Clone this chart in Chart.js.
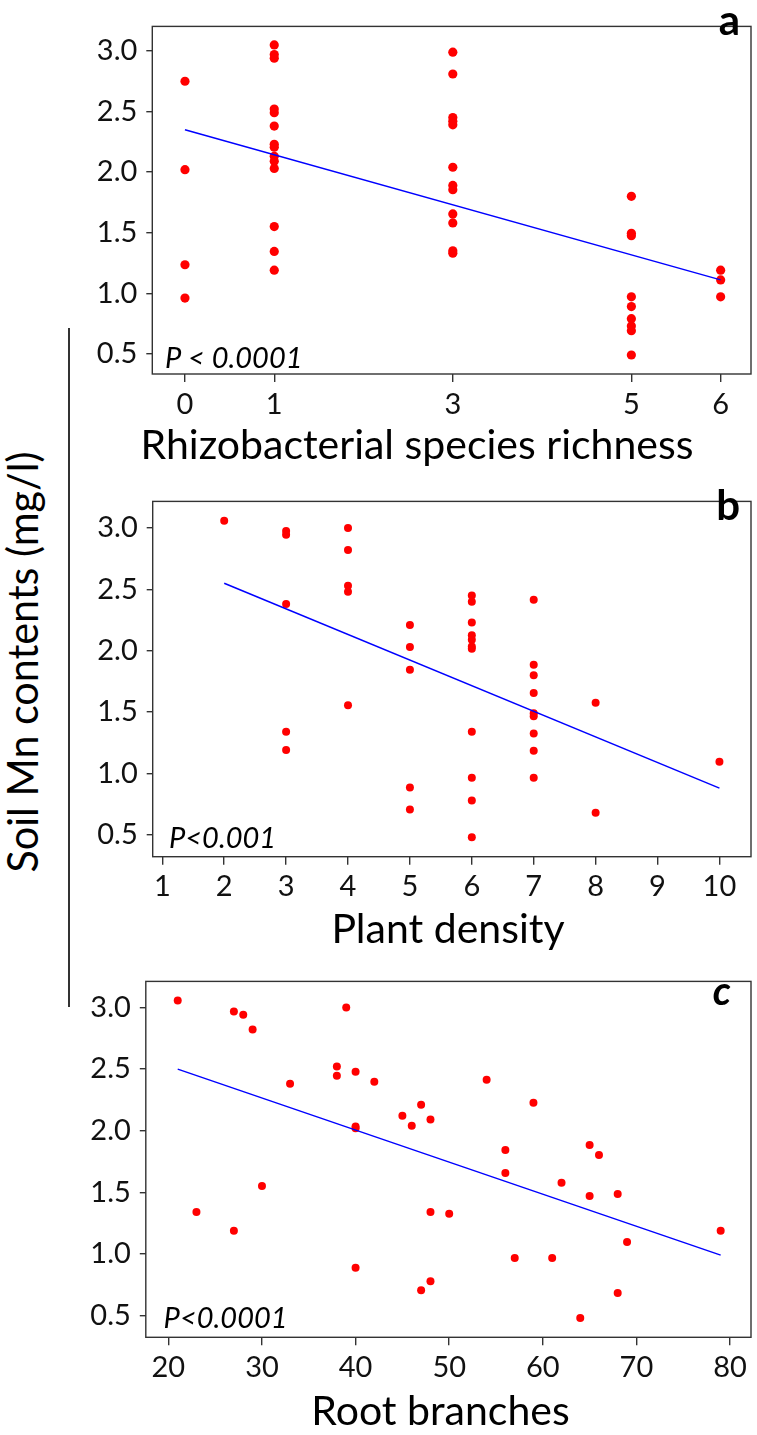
<!DOCTYPE html>
<html><head><meta charset="utf-8">
<script src="https://cdn.jsdelivr.net/npm/chart.js@4.4.0/dist/chart.umd.min.js"></script>
<style>
html,body{margin:0;padding:0;background:#fff;}
#wrap{position:relative;width:757px;height:1435px;overflow:hidden;background:#fff;}
canvas{position:absolute;left:0;}
#ytitle{position:absolute;left:0;top:0;width:480px;height:44px;transform-origin:0 0;font-family:Lato,sans-serif;font-size:43px;line-height:44px;white-space:nowrap;color:#000;text-align:center;}
#vline{position:absolute;left:68.3px;top:328px;width:1.4px;height:679px;background:#333;}
</style>
</head><body>
<div id="wrap">
  <div id="vline"></div>
  <div id="ytitle"><span id="ytspan">Soil Mn contents (mg/l)</span></div>
  <canvas id="ca" width="757" height="475" style="top:0px;width:757px;height:475px"></canvas>
  <canvas id="cb" width="757" height="480" style="top:475px;width:757px;height:480px"></canvas>
  <canvas id="cc" width="757" height="480" style="top:955px;width:757px;height:480px"></canvas>
</div>
<script>
// ---------- Panel a: Rhizobacterial species richness ----------
const aX = [0,0,0,0,
  1,1,1,1,1,1,1,1,1,1,1,1,1,1,
  3,3,3,3,3,3,3,3,3,3,3,3,
  5,5,5,5,5,5,5,5,5,
  6,6,6];
const aY = [2.75,2.02,1.235,0.96,
  3.05,2.97,2.94,2.52,2.49,2.38,2.23,2.205,2.13,2.09,2.03,1.55,1.345,1.19,
  2.99,2.81,2.45,2.42,2.39,2.04,1.89,1.855,1.655,1.58,1.35,1.33,
  1.80,1.495,1.475,0.97,0.89,0.79,0.73,0.69,0.49,
  1.19,1.11,0.97];
const aLineX = [0, 6];
const aLineY = [2.35, 1.11];
const aXTicks = [0, 1, 3, 5, 6];

// ---------- Panel b: Plant density ----------
const bX = [2,
  3,3,3,3,3,
  4,4,4,4,4,
  5,5,5,5,5,
  6,6,6,6,6,6,6,6,6,6,6,
  7,7,7,7,7,7,7,7,7,
  8,8,
  10];
const bY = [3.06,
  2.975,2.945,2.38,1.34,1.19,
  3.00,2.82,2.53,2.48,1.555,
  2.21,2.03,1.845,0.885,0.705,
  2.45,2.40,2.23,2.125,2.09,2.035,2.015,1.34,0.965,0.78,0.48,
  2.415,1.885,1.80,1.655,1.49,1.465,1.325,1.185,0.965,
  1.575,0.68,
  1.095];
const bLineX = [2, 10];
const bLineY = [2.55, 0.88];
const bXTicks = [1,2,3,4,5,6,7,8,9,10];

// ---------- Panel c: Root branches ----------
const cX = [21,27,28,29,39,33,38,38,40,42,54,47,59,45,46,48,40,40,56,65,66,56,62,30,65,68,23,48,50,27,79,69,57,61,40,48,47,68,64];
const cY = [3.056,2.967,2.941,2.821,3.0,2.382,2.521,2.446,2.479,2.397,2.413,2.21,2.226,2.121,2.041,2.09,2.035,2.02,1.844,1.885,1.803,1.656,1.577,1.551,1.469,1.487,1.341,1.341,1.326,1.187,1.187,1.097,0.967,0.967,0.887,0.777,0.705,0.682,0.479];
const cLineX = [21, 79];
const cLineY = [2.50, 0.99];
const cXTicks = [20,30,40,50,60,70,80];

const yTicks = [0.5, 1.0, 1.5, 2.0, 2.5, 3.0];
const xTitles = ['Rhizobacterial species richness', 'Plant density', 'Root branches'];
const pTexts = ['P < 0.0001', 'P<0.001', 'P<0.0001'];
const letters = ['a', 'b', 'c'];

const zip = (xs, ys) => xs.map((x, i) => ({x: x, y: ys[i]}));
const FONT = 'Lato, "Open Sans", sans-serif';
const AXC = '#333';

// shared y title: rotated, centred at (22, 662), fitted to ~421px along the text
(function () {
  const el = document.getElementById('ytitle');
  const sp = document.getElementById('ytspan');
  const w = sp.getBoundingClientRect().width || 480;
  const s = Math.min(1, 421 / w);
  const boxW = 480, boxH = 44;
  const cx = 22, cy = 662;
  const tx = cx - boxH / 2;
  const ty = cy + boxW / 2;
  el.style.transform = 'translate(' + tx + 'px,' + ty + 'px) rotate(-90deg) translate(' + (boxW * (1 - s) / 2) + 'px,0) scale(' + s + ',1)';
})();

function makePanel(canvasId, cfg) {
  const xAxisH = 50;
  const H = cfg.canvasH;
  const overlay = {
    id: 'overlay_' + canvasId,
    afterDraw(chart) {
      const ctx = chart.ctx, ca = chart.chartArea;
      ctx.save();
      ctx.strokeStyle = AXC;
      ctx.lineWidth = 1.4;
      ctx.strokeRect(ca.left, ca.top, ca.right - ca.left, ca.bottom - ca.top);
      ctx.fillStyle = '#000';
      ctx.textBaseline = 'alphabetic';
      ctx.textAlign = 'right';
      ctx.font = cfg.letterFont;
      ctx.fillText(cfg.letter, cfg.letterPos[0], cfg.letterPos[1]);
      ctx.textAlign = 'left';
      ctx.font = 'italic 29px ' + FONT;
      ctx.fillText(cfg.pText, cfg.pPos[0], cfg.pPos[1]);
      ctx.textAlign = 'center';
      ctx.font = '41px ' + FONT;
      ctx.fillText(cfg.title, cfg.titlePos[0], cfg.titlePos[1]);
      ctx.restore();
    }
  };
  return new Chart(document.getElementById(canvasId), {
    data: {
      datasets: [
        {type: 'line', data: zip(cfg.lineX, cfg.lineY), borderColor: '#0000ff', borderWidth: 1.5,
         pointRadius: 0, fill: false, tension: 0, order: 0},
        {type: 'scatter', data: zip(cfg.xs, cfg.ys), backgroundColor: '#ff0000', borderColor: '#ff0000',
         borderWidth: 0, pointRadius: cfg.r, order: 1}
      ]
    },
    options: {
      responsive: false, animation: false, devicePixelRatio: 1,
      layout: {padding: {top: cfg.area.top, left: 0, right: 757 - cfg.area.right,
        bottom: H - cfg.area.bottom - xAxisH}},
      plugins: {legend: {display: false}, tooltip: {enabled: false}, title: {display: false}},
      scales: {
        x: {type: 'linear', position: 'bottom', min: cfg.xmin, max: cfg.xmax,
          afterFit(s) { s.height = xAxisH; },
          afterBuildTicks(s) { s.ticks = cfg.xTicks.map(v => ({value: v})); },
          grid: {display: true, drawOnChartArea: false, drawTicks: true, tickLength: 8, color: AXC, lineWidth: 1.4},
          border: {display: false},
          ticks: {font: {family: FONT, size: 29}, color: '#111', padding: 5, maxRotation: 0, autoSkip: false,
            callback: v => String(v)}
        },
        y: {type: 'linear', position: 'left', min: cfg.ymin, max: cfg.ymax,
          afterFit(s) { s.width = cfg.area.left; },
          afterBuildTicks(s) { s.ticks = yTicks.map(v => ({value: v})); },
          grid: {display: true, drawOnChartArea: false, drawTicks: true, tickLength: 6, color: AXC, lineWidth: 1.4},
          border: {display: false},
          ticks: {font: {family: FONT, size: 29}, color: '#111', padding: 9, autoSkip: false,
            callback: v => Number(v).toFixed(1)}
        }
      }
    },
    plugins: [overlay]
  });
}

makePanel('ca', {canvasH: 475, area: {left: 152.3, top: 2, right: 751, bottom: 374},
  xs: aX, ys: aY, lineX: aLineX, lineY: aLineY, xTicks: aXTicks,
  xmin: -0.366, xmax: 6.34, ymin: 0.333, ymax: 3.203, r: 4.6,
  letter: letters[0], letterFont: 'bold 42px ' + FONT, letterPos: [740, 35],
  pText: pTexts[0], pPos: [165, 368], title: xTitles[0], titlePos: [417, 459]});

makePanel('cb', {canvasH: 480, area: {left: 152.7, top: 2.3, right: 751, bottom: 381.7},
  xs: bX, ys: bY, lineX: bLineX, lineY: bLineY, xTicks: bXTicks,
  xmin: 0.845, xmax: 10.51, ymin: 0.321, ymax: 3.217, r: 4.0,
  letter: letters[1], letterFont: 'bold 42px ' + FONT, letterPos: [740, 45],
  pText: pTexts[1], pPos: [169, 372.7], title: xTitles[1], titlePos: [448, 468.3]});

makePanel('cc', {canvasH: 480, area: {left: 145.8, top: 6.7, right: 751, bottom: 382.3},
  xs: cX, ys: cY, lineX: cLineX, lineY: cLineY, xTicks: cXTicks,
  xmin: 17.59, xmax: 82.24, ymin: 0.323, ymax: 3.212, r: 4.0,
  letter: letters[2], letterFont: 'italic bold 40px ' + FONT, letterPos: [731, 50],
  pText: pTexts[2], pPos: [163.6, 373], title: xTitles[2], titlePos: [440.5, 470]});
</script>
</body></html>
